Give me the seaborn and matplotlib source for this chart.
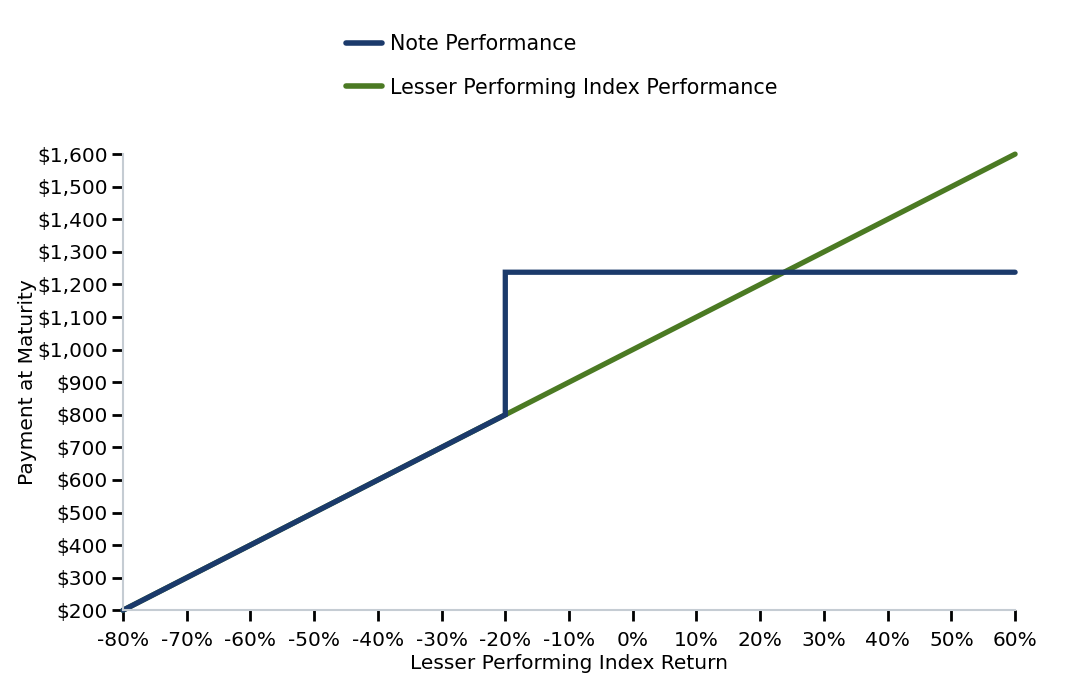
import matplotlib
matplotlib.use("Agg")
import matplotlib.pyplot as plt
import seaborn as sns
import pandas as pd

# Data
index_x = [-80, 60]
index_y = [200, 1600]
note_x = [-80, -20, -20, 60]
note_y = [200, 800, 1237.5, 1237.5]
x_ticks = list(range(-80, 61, 10))
y_ticks = list(range(200, 1601, 100))

sns.set_theme(style="white")
plt.rcParams['font.family'] = ['DejaVu Sans']

BLUE = "#1b3a6b"
GREEN = "#4b7a23"
FS = 14.5

fig = plt.figure(figsize=(10.88, 6.88), dpi=100)
ax = fig.add_axes([0.113, 0.113, 0.82, 0.663])

df_index = pd.DataFrame({"x": index_x, "y": index_y})
df_note = pd.DataFrame({"x": note_x, "y": note_y})

sns.lineplot(data=df_index, x="x", y="y", ax=ax, color=GREEN, linewidth=3.8,
             estimator=None, sort=False, label="Lesser Performing Index Performance",
             solid_capstyle="round", clip_on=False)
sns.lineplot(data=df_note, x="x", y="y", ax=ax, color=BLUE, linewidth=3.8,
             estimator=None, sort=False, label="Note Performance",
             solid_capstyle="round", solid_joinstyle="miter", clip_on=False)

ax.set_xlim(-80, 60)
ax.set_ylim(200, 1600)
ax.set_xticks(x_ticks)
ax.set_xticklabels([f"{t}%" for t in x_ticks])
ax.set_yticks(y_ticks)
ax.set_yticklabels([f"${t:,}" for t in y_ticks])

for s in ["top", "right"]:
    ax.spines[s].set_visible(False)
for s in ["left", "bottom"]:
    ax.spines[s].set_color("#c5ccd3")
    ax.spines[s].set_linewidth(1.5)

ax.tick_params(axis="both", which="major", direction="out", length=8, width=2,
               color="black", labelsize=FS, labelcolor="black",
               bottom=True, left=True)
ax.tick_params(axis="y", pad=3)
ax.tick_params(axis="x", pad=7)
ax.set_xlabel("Lesser Performing Index Return", fontsize=FS, color="black", labelpad=3)
ax.set_ylabel("Payment at Maturity", fontsize=FS, color="black", labelpad=0)

handles, labels = ax.get_legend_handles_labels()
order = [1, 0]
leg = ax.legend([handles[i] for i in order], [labels[i] for i in order],
                loc="upper left", bbox_to_anchor=(0.301, 0.978), bbox_transform=fig.transFigure,
                frameon=False, fontsize=14.9, handlelength=1.75, handletextpad=0.35,
                labelspacing=1.15, labelcolor="black")
for line in leg.get_lines():
    line.set_solid_capstyle("round")
    line.set_linewidth(4)

fig.savefig("out.png", dpi=100)
